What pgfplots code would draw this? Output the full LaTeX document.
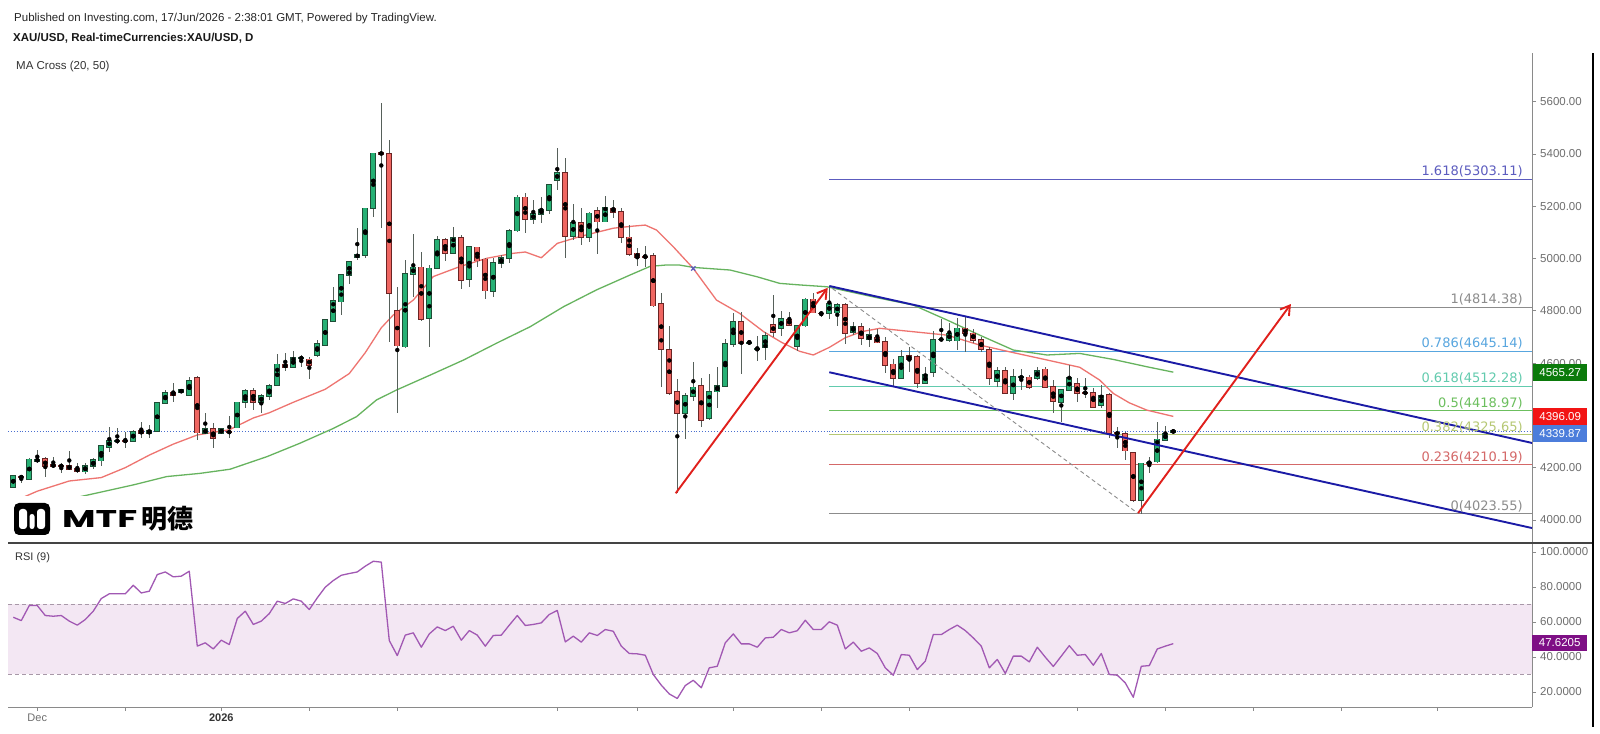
\documentclass[border=0pt]{standalone}
\usepackage{fontspec}
\setmainfont{Liberation Sans}
\newfontfamily\dejavu{DejaVu Sans}
\newfontfamily\poppins{Poppins}
\newfontfamily\cjk{Noto Sans CJK SC}
\usepackage{graphicx}
\usepackage{pgfplots}
\usepackage{pgfplotstable}
\pgfplotsset{compat=1.18}
\usetikzlibrary{arrows.meta}

\definecolor{upfill}{HTML}{26B074}
\definecolor{upedge}{HTML}{1F4D36}
\definecolor{dnfill}{HTML}{EF6661}
\definecolor{dnedge}{HTML}{6A2424}
\definecolor{wick}{HTML}{56605A}
\definecolor{ma20}{HTML}{EE7470}
\definecolor{ma50}{HTML}{66B35E}
\definecolor{chan}{HTML}{1B1BA6}
\definecolor{arr}{HTML}{E0201C}
\definecolor{curline}{HTML}{4A6FD0}
\definecolor{axgray}{HTML}{8A8A8A}
\definecolor{labgray}{HTML}{6E6E6E}
\definecolor{fibA}{HTML}{5C5CBF}
\definecolor{fibB}{HTML}{8C8C8C}
\definecolor{fibC}{HTML}{58A6DF}
\definecolor{fibD}{HTML}{62CBAE}
\definecolor{fibE}{HTML}{6CBF5E}
\definecolor{fibF}{HTML}{B6C874}
\definecolor{fibG}{HTML}{D46868}
\definecolor{rsiline}{HTML}{A158B3}
\definecolor{rsiband}{HTML}{F3E7F3}
\definecolor{rsidash}{HTML}{A898A8}
\definecolor{boxgreen}{HTML}{0B7A0B}
\definecolor{boxred}{HTML}{F21414}
\definecolor{boxblue}{HTML}{4C7DDB}
\definecolor{boxpurple}{HTML}{7E0F85}
\definecolor{sep}{HTML}{444444}

\pgfplotstableread{
i o h l c
0 4127 4172 4125 4168
2 4157 4236 4155 4232
3 4226 4268 4216 4231
9 4185 4219 4175 4206
10 4206 4237 4193 4229
11 4227 4286 4206 4283
12 4280 4357 4261 4303
13 4301 4350 4289 4303
15 4302 4344 4300 4338
17 4331 4363 4315 4340
18 4340 4452 4338 4449
19 4446 4497 4444 4487
21 4488 4500 4486 4497
22 4478 4548 4476 4533
24 4331 4408 4329 4348
26 4331 4352 4328 4348
28 4353 4452 4350 4450
29 4450 4499 4427 4494
31 4450 4482 4410 4475
32 4474 4519 4457 4514
33 4516 4634 4514 4595
35 4584 4646 4582 4621
36 4618 4631 4586 4620
38 4631 4688 4625 4673
39 4669 4767 4667 4765
40 4762 4890 4760 4839
41 4835 4940 4784 4937
42 4937 4990 4901 4988
43 5005 5116 4994 5016
44 5014 5195 5001 5192
45 5192 5405 5160 5402
49 4663 4994 4656 4941
50 4941 5094 4854 4966
52 4771 4975 4660 4962
53 4962 5086 4960 5071
55 5022 5122 5020 5080
57 4920 5048 4892 5045
60 4876 5001 4854 4982
61 4982 5013 4965 5003
62 5001 5112 4984 5107
63 5107 5243 5103 5234
65 5150 5224 5132 5170
66 5170 5237 5135 5188
67 5186 5285 5169 5281
68 5300 5422 5262 5328
70 5086 5209 5071 5137
72 5081 5179 5064 5173
74 5141 5239 5139 5195
84 4410 4484 4308 4475
85 4474 4605 4456 4507
87 4389 4558 4382 4491
88 4491 4584 4427 4512
89 4512 4691 4510 4673
90 4673 4793 4663 4758
92 4678 4690 4670 4679
93 4652 4704 4609 4654
94 4660 4720 4612 4704
96 4733 4800 4704 4770
98 4665 4746 4647 4743
99 4743 4848 4739 4844
102 4790 4895 4768 4828
103 4793 4828 4742 4822
105 4720 4758 4707 4737
107 4691 4733 4660 4707
111 4542 4650 4538 4624
114 4522 4586 4520 4557
115 4567 4724 4548 4688
116 4690 4767 4686 4691
117 4688 4752 4682 4714
118 4686 4771 4650 4733
123 4532 4586 4510 4570
125 4484 4576 4459 4548
126 4545 4576 4497 4546
128 4542 4586 4535 4571
131 4452 4500 4376 4497
132 4497 4593 4494 4542
136 4439 4516 4427 4474
141 4076 4219 4023.55 4216
142 4218 4242 4178 4220
143 4223 4376 4219 4308
144 4306 4359 4303 4331
145 4337 4347 4331 4339.87
}\up

\pgfplotstableread{
i o h l c
1 4165 4172 4143 4163
4 4233 4242 4163 4204
5 4210 4242 4197 4206
6 4207 4219 4178 4206
7 4208 4264 4191 4194
8 4197 4219 4178 4185
14 4303 4337 4274 4301
16 4340 4376 4315 4331
20 4488 4525 4450 4478
23 4542 4551 4306 4334
25 4348 4372 4276 4312
27 4337 4399 4312 4335
30 4494 4503 4421 4452
34 4595 4638 4571 4584
37 4614 4625 4539 4593
46 5404 5596 5116 5400
47 5399 5453 4682 4867
48 4801 4892 4408 4667
51 4966 5026 4762 4767
54 5071 5080 4992 5022
56 5080 5090 4882 4918
58 5043 5045 4969 4992
59 4997 5001 4844 4877
64 5234 5252 5099 5150
69 5328 5383 5001 5086
71 5137 5192 5052 5081
73 5182 5198 5017 5141
75 5192 5224 5154 5179
76 5179 5192 5058 5081
77 5081 5128 5010 5017
78 5020 5039 4971 5005
79 5008 5048 4969 5006
80 5010 5020 4813 4820
81 4826 4867 4507 4653
82 4650 4742 4478 4484
83 4491 4538 4102 4408
86 4512 4542 4357 4382
91 4758 4797 4558 4676
95 4746 4860 4701 4718
97 4767 4797 4740 4746
100 4844 4869 4790 4793
101 4790 4797 4778 4790
104 4822 4828 4673 4714
106 4737 4755 4669 4695
108 4698 4729 4675 4678
109 4682 4701 4561 4593
110 4595 4614 4510 4542
112 4627 4660 4567 4614
113 4624 4631 4503 4522
119 4733 4775 4643 4714
120 4714 4729 4675 4688
121 4688 4701 4644 4652
122 4652 4663 4516 4542
124 4570 4586 4482 4484
127 4545 4554 4500 4507
129 4576 4586 4503 4507
130 4510 4535 4408 4456
133 4520 4542 4452 4484
134 4487 4542 4465 4486
135 4487 4503 4431 4433
137 4478 4484 4312 4331
138 4332 4357 4274 4330
139 4329 4338 4229 4265
140 4257 4261 4070 4076
}\dn

\pgfplotstableread{
i r
0 62.7
1 60.8
2 69.4
3 69.4
4 63.7
5 63.3
6 63.7
7 60.5
8 58.2
9 61.4
10 66.2
11 73.4
12 76.1
13 76.1
14 76.1
15 81.0
16 76.6
17 77.6
18 87.1
19 88.6
20 85.8
21 86.2
22 89.0
23 46.2
24 48.1
25 44.6
26 49.6
27 47.1
28 62.0
29 66.2
30 58.6
31 60.5
32 64.8
33 71.9
34 70.6
35 73.2
36 71.9
37 67.1
38 73.8
39 79.9
40 83.7
41 86.7
42 87.7
43 88.6
44 91.9
45 94.7
46 94.2
47 49.4
48 40.8
49 52.5
50 53.8
51 45.6
52 53.2
53 57.2
54 55.1
55 57.6
56 49.6
57 55.1
58 52.5
59 46.2
60 52.3
61 52.5
62 58.2
63 63.7
64 58.0
65 58.6
66 59.5
67 64.3
68 66.6
69 48.6
70 51.9
71 48.5
72 53.8
73 52.3
74 55.7
75 54.7
76 46.2
77 42.0
78 41.8
79 41.0
80 30.0
81 23.9
82 18.9
83 16.3
84 23.7
85 26.7
86 22.4
87 33.8
88 34.7
89 48.1
90 53.2
91 47.5
92 47.5
93 45.6
94 50.9
95 51.3
96 55.7
97 53.8
98 55.0
99 61.0
100 55.7
101 55.7
102 60.1
103 58.2
104 44.6
105 48.5
106 43.3
107 45.2
108 42.0
109 33.8
110 29.6
111 41.4
112 41.0
113 32.8
114 37.6
115 52.8
116 52.8
117 55.7
118 58.2
119 55.1
120 50.9
121 46.2
122 33.8
123 38.6
124 30.6
125 40.5
126 40.5
127 37.2
128 45.6
129 39.9
130 34.6
131 40.5
132 46.5
133 41.0
134 41.4
135 35.3
136 42.0
137 30.0
138 29.6
139 25.2
140 17.0
141 34.7
142 35.1
143 44.6
144 46.2
145 47.62
}\rsi

\pgfplotsset{
  candle/.style n args={2}{only marks, mark=none, forget plot,
    error bars/.cd, y dir=both, y explicit, error mark=none,
    error bar style={line width=#1, draw=#2}},
}

\newcommand{\lab}{\fontsize{11.5bp}{13bp}\selectfont}
\newcommand{\fib}{\dejavu\fontsize{13bp}{15bp}\selectfont}

\begin{document}
\begin{tikzpicture}[x=1bp,y=1bp]
\useasboundingbox[fill=white] (0,0) rectangle (1600,734);

% ---------------- main price panel ----------------
\begin{axis}[
  at={(8bp,191bp)}, anchor=south west, scale only axis,
  width=1524bp, height=490bp,
  xmin=-0.66, xmax=189.84, ymin=3911.8, ymax=5786.3,
  axis x line=none, axis y line*=right,
  axis line style={draw=axgray, line width=0.8bp, -},
  ytick={4000,4200,4400,4600,4800,5000,5200,5400,5600},
  tick align=outside, major tick length=4bp,
  tick style={draw=axgray, line width=0.8bp},
  yticklabel style={font=\lab, text=labgray, anchor=west, inner sep=0pt, xshift=4bp},
  yticklabel={\pgfmathprintnumber[fixed, fixed zerofill, precision=2, 1000 sep={}, assume math mode=true]{\tick}},
  every axis plot/.append style={line join=round},
]
% current price dotted
\addplot[curline, dotted, line width=0.9bp] coordinates {(-0.66,4339.87) (189.84,4339.87)};
% fib levels
\addplot[fibA, line width=1bp] coordinates {(102,5303.11) (189.84,5303.11)};
\addplot[fibB, line width=1bp] coordinates {(102,4814.38) (189.84,4814.38)};
\addplot[fibC, line width=1bp] coordinates {(102,4645.14) (189.84,4645.14)};
\addplot[fibD, line width=1bp] coordinates {(102,4512.28) (189.84,4512.28)};
\addplot[fibE, line width=1bp] coordinates {(102,4418.97) (189.84,4418.97)};
\addplot[fibF, line width=1bp] coordinates {(102,4325.65) (189.84,4325.65)};
\addplot[fibG, line width=1bp] coordinates {(102,4210.19) (189.84,4210.19)};
\addplot[fibB, line width=1bp] coordinates {(102,4023.55) (189.84,4023.55)};
% moving averages
\addplot[ma50, line width=1.3bp] coordinates {(0,4035) (7.5,4083) (15,4134) (19.2,4166) (23.3,4178) (27.1,4194) (31.7,4242) (35.8,4293) (40,4350) (42.9,4395) (45.4,4459) (47.9,4497) (52.1,4554) (56.3,4612) (60.4,4676) (64.6,4739) (68.8,4816) (72.9,4880) (77.1,4937) (79.6,4970) (81.5,4975) (83.3,4975) (85,4966) (89.6,4956) (93,4930) (95.8,4905) (98.3,4899) (101.7,4892) (105,4870) (108.3,4848) (112.5,4822) (116.7,4765) (120.8,4707) (125,4650) (129.2,4631) (133.3,4637) (137.5,4614) (141.7,4586) (145,4565.27)};
\addplot[ma20, line width=1.3bp] coordinates {(0,4070) (3,4110) (7,4149) (11,4162) (14,4200) (17,4248) (20,4290) (23,4325) (27,4345) (30,4390) (32,4410) (35,4450) (39,4500) (42,4560) (44,4640) (46,4735) (47.5,4784) (50,4841) (52.5,4931) (55.8,4969) (59.2,5001) (62.5,5020) (64,5025) (66,5003) (68,5058) (70.8,5084) (75,5116) (77.5,5124) (79,5128) (80.4,5109) (82.5,5045) (85,4962) (87.9,4841) (90.8,4790) (93.8,4720) (96,4680) (98.3,4645) (100,4631) (102,4660) (104,4697) (106,4720) (108.3,4733) (112.5,4720) (116.7,4707) (120.8,4669) (125,4640) (129.2,4612) (133.3,4584) (135.8,4535) (137.5,4484) (139.5,4448) (141.7,4420) (145,4396.09)};
\addplot[only marks, mark=x, mark size=3bp, mark options={line width=1.3bp, draw=fibA}] coordinates {(85,4962)};
% candles: wicks
\addplot[candle={1bp}{wick}] table[x=i, y expr={(\thisrow{h}+\thisrow{l})/2}, y error expr={(\thisrow{h}-\thisrow{l})/2}] {\up};
\addplot[candle={1bp}{wick}] table[x=i, y expr={(\thisrow{h}+\thisrow{l})/2}, y error expr={(\thisrow{h}-\thisrow{l})/2}] {\dn};
% bodies
\addplot[candle={6bp}{upedge}] table[x=i, y expr={(\thisrow{o}+\thisrow{c})/2}, y error expr={abs(\thisrow{c}-\thisrow{o})/2+3}] {\up};
\addplot[candle={4.2bp}{upfill}] table[x=i, y expr={(\thisrow{o}+\thisrow{c})/2}, y error expr={abs(\thisrow{c}-\thisrow{o})/2}] {\up};
\addplot[candle={6bp}{dnedge}] table[x=i, y expr={(\thisrow{o}+\thisrow{c})/2}, y error expr={abs(\thisrow{c}-\thisrow{o})/2+3}] {\dn};
\addplot[candle={4.2bp}{dnfill}] table[x=i, y expr={(\thisrow{o}+\thisrow{c})/2}, y error expr={abs(\thisrow{c}-\thisrow{o})/2}] {\dn};
% channel
\addplot[chan, line width=1.9bp] coordinates {(102,4895) (189.84,4294.5)};
\addplot[chan, line width=1.9bp] coordinates {(102,4565) (189.84,3969)};
% dashed diagonal
\addplot[black!45, dash pattern=on 4bp off 3bp, line width=0.9bp] coordinates {(102.4,4885) (140.5,4027)};
% arrows
\addplot[arr, line width=1.9bp, -{Straight Barb[length=9bp, width=11bp, line width=1.9bp]}] coordinates {(82.8,4102) (101.8,4888)};
\addplot[arr, line width=1.9bp, -{Straight Barb[length=9bp, width=11bp, line width=1.9bp]}] coordinates {(140.6,4026) (159.7,4826)};
% fib labels
\node[anchor=south east, inner sep=0pt, yshift=1.5bp, font=\fib, text=fibA] at (axis cs:188.7,5303.11) {1.618(5303.11)};
\node[anchor=south east, inner sep=0pt, yshift=1.5bp, font=\fib, text=fibB] at (axis cs:188.7,4814.38) {1(4814.38)};
\node[anchor=south east, inner sep=0pt, yshift=1.5bp, font=\fib, text=fibC] at (axis cs:188.7,4645.14) {0.786(4645.14)};
\node[anchor=south east, inner sep=0pt, yshift=1.5bp, font=\fib, text=fibD] at (axis cs:188.7,4512.28) {0.618(4512.28)};
\node[anchor=south east, inner sep=0pt, yshift=1.5bp, font=\fib, text=fibE] at (axis cs:188.7,4418.97) {0.5(4418.97)};
\node[anchor=south east, inner sep=0pt, yshift=1.5bp, font=\fib, text=fibF] at (axis cs:188.7,4325.65) {0.382(4325.65)};
\node[anchor=south east, inner sep=0pt, yshift=1.5bp, font=\fib, text=fibG] at (axis cs:188.7,4210.19) {0.236(4210.19)};
\node[anchor=south east, inner sep=0pt, yshift=1.5bp, font=\fib, text=fibB] at (axis cs:188.7,4023.55) {0(4023.55)};
\end{axis}

% ---------------- RSI panel ----------------
\begin{axis}[
  at={(8bp,27bp)}, anchor=south west, scale only axis,
  width=1524bp, height=164bp,
  xmin=-0.66, xmax=189.84, ymin=11.43, ymax=105.14,
  axis x line*=bottom, axis y line*=right,
  axis line style={draw=axgray, line width=0.8bp, -},
  ytick={20,40,60,80,100},
  xtick={3,14,26,37,48,68,78,90,101,112,133,144,155,166,178},
  xticklabels={Dec,,{\textcolor{black!80}{\bfseries 2026}},,,,,,,,,,,,},
  tick align=outside, major tick length=4bp,
  tick style={draw=axgray, line width=0.8bp},
  yticklabel style={font=\lab, text=labgray, anchor=west, inner sep=0pt, xshift=4bp},
  yticklabel={\pgfmathprintnumber[fixed, fixed zerofill, precision=4, 1000 sep={}, assume math mode=true]{\tick}},
  xticklabel style={font=\fontsize{11bp}{12bp}\selectfont, text=labgray, anchor=north, inner sep=0pt, yshift=-3bp},
]
\addplot[draw=none, fill=rsiband] coordinates {(-0.66,30) (189.84,30) (189.84,70) (-0.66,70)} -- cycle;
\addplot[rsidash, dash pattern=on 4bp off 3bp, line width=0.9bp] coordinates {(-0.66,70) (189.84,70)};
\addplot[rsidash, dash pattern=on 4bp off 3bp, line width=0.9bp] coordinates {(-0.66,30) (189.84,30)};
\addplot[rsiline, line width=1.3bp, line join=round] table[x=i, y=r] {\rsi};
\end{axis}

% separator and frame
\draw[sep, line width=2.2bp] (8,191) -- (1593,191);
\draw[black, line width=1.4bp] (1593,7) -- (1593,681);

% value boxes
\node[fill=boxgreen, text=white, font=\lab, anchor=west, minimum height=17bp, minimum width=54bp, inner sep=0pt] at (1533,361.5) {4565.27};
\node[fill=boxred, text=white, font=\lab, anchor=west, minimum height=17bp, minimum width=54bp, inner sep=0pt] at (1533,317.5) {4396.09};
\node[fill=boxblue, text=white, font=\lab, anchor=west, minimum height=17bp, minimum width=54bp, inner sep=0pt] at (1533,300.3) {4339.87};
\node[fill=boxpurple, text=white, font=\lab, anchor=west, minimum height=16bp, minimum width=55bp, inner sep=0pt] at (1532,91) {47.6205};

% header texts
\node[anchor=base west, inner sep=0pt, font=\fontsize{11.5bp}{13bp}\selectfont, text=black!85] at (14,712.5) {Published on Investing.com, 17/Jun/2026 - 2:38:01 GMT, Powered by TradingView.};
\node[anchor=base west, inner sep=0pt, font=\bfseries\fontsize{11.5bp}{13bp}\selectfont, text=black!90] at (13,692.5) {XAU/USD, Real-timeCurrencies:XAU/USD, D};
\node[anchor=base west, inner sep=0pt, font=\fontsize{11.5bp}{13bp}\selectfont, text=black!80] at (16,664.5) {MA Cross (20, 50)};
\node[anchor=base west, inner sep=0pt, font=\fontsize{11bp}{13bp}\selectfont, text=black!80] at (15,173) {RSI (9)};

% logo
\fill[white] (0,193.2) rectangle (206,238);
\fill[black, rounded corners=5bp] (14,199) rectangle (50,231);
\fill[white, rounded corners=3bp] (19,205) rectangle (27,225);
\fill[white, rounded corners=2.5bp] (29.5,205) rectangle (34.5,220);
\fill[white, rounded corners=3bp] (37,205) rectangle (45,225);
\node[anchor=base west, inner sep=0pt] at (62,206) {\resizebox{75bp}{17bp}{\poppins\bfseries MTF}};
\node[anchor=base west, inner sep=0pt, font=\cjk\bfseries\fontsize{26bp}{28bp}\selectfont] at (141,205) {明德};
\end{tikzpicture}
\end{document}
